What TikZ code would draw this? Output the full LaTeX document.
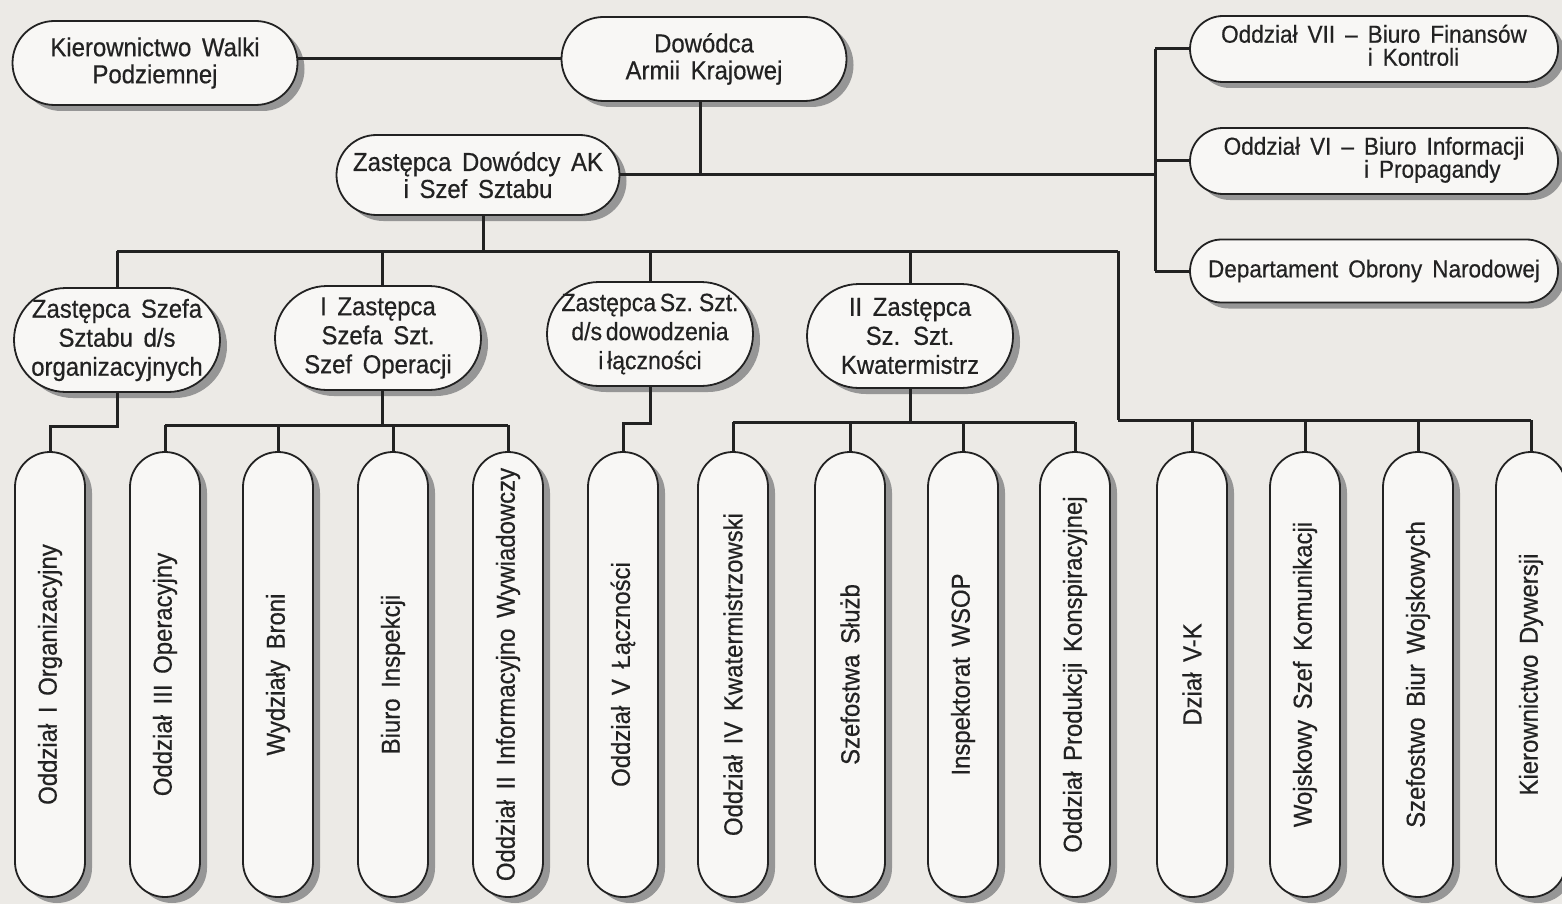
\documentclass[tikz,border=0pt]{standalone}
\usepackage{fontspec}
\setmainfont{Liberation Sans}[FakeStretch=0.92,WordSpace=1.6,FakeBold=0.5]
\usepackage{graphicx}
\usetikzlibrary{shadows,calc}
\definecolor{paper}{RGB}{236,234,230}
\definecolor{boxfill}{RGB}{248,247,245}
\definecolor{ink}{RGB}{34,34,34}
\definecolor{shade}{RGB}{150,150,150}
\newcommand{\tightsp}{\spaceskip 0.15em\relax}
\tikzset{
  pill/.style={draw=ink, line width=1.8pt, fill=boxfill, text=ink, inner sep=0pt, rectangle,
    general shadow={fill=shade, shadow xshift=7pt, shadow yshift=-6pt}},
  topbox/.style={pill, minimum width=285, minimum height=84, rounded corners=42, align=center,
    font=\fontsize{26}{27}\selectfont},
  sidebox/.style={pill, minimum width=368, minimum height=66, rounded corners=33,
    font=\fontsize{24.5}{26}\selectfont},
  midbox/.style={pill, minimum width=206, minimum height=104, rounded corners=52, align=center,
    font=\fontsize{26}{29}\selectfont},
  capsule/.style={pill, minimum width=70, minimum height=445, rounded corners=35,
    font=\fontsize{26}{28}\selectfont},
  conn/.style={draw=ink, line width=3pt},
}
\begin{document}
\begin{tikzpicture}[x=1pt,y=-1pt]
\useasboundingbox (0,0) rectangle (1562,904);
\fill[paper] (0,0) rectangle (1562,904);

% top level
\node[topbox] (kwp) at (155,63) {Kierownictwo Walki\\Podziemnej};
\node[topbox] (dow) at (704,59) {Dowódca\\Armii Krajowej};
\node[topbox, minimum width=283, minimum height=80, rounded corners=40] (ak) at (478,175) {Zastępca Dowódcy AK\\i Szef Sztabu};

% side boxes
\node[sidebox] (o7) at (1374,49) {\begin{tabular}{@{}l@{}l@{}}Oddział VII --~ & Biuro Finansów\\[-3pt] & i Kontroli\end{tabular}};
\node[sidebox] (o6) at (1374,161) {\begin{tabular}{@{}l@{}l@{}}Oddział VI --~ & Biuro Informacji\\[-3pt] & i Propagandy\end{tabular}};
\node[sidebox, minimum height=63, rounded corners=31.5] (don) at (1374,271) {Departament Obrony Narodowej};

% second level
\node[midbox] (zs1) at (117,340) {Zastępca Szefa\\Sztabu d/s\\organizacyjnych};
\node[midbox] (zs2) at (378,338) {I Zastępca\\Szefa Szt.\\Szef Operacji};
\node[midbox, font={\fontsize{25}{29}\selectfont\tightsp}] (zs3) at (650,334) {Zastępca Sz. Szt.\\d/s dowodzenia\\i łączności};
\node[midbox] (zs4) at (910,336) {II Zastępca\\Sz. Szt.\\Kwatermistrz};

% bottom capsules
\node[capsule] (b1) at (50,674.5) {\rotatebox{90}{Oddział I Organizacyjny}};
\node[capsule] (b2) at (165,674.5) {\rotatebox{90}{Oddział III Operacyjny}};
\node[capsule] (b3) at (278,674.5) {\rotatebox{90}{Wydziały Broni}};
\node[capsule] (b4) at (393,674.5) {\rotatebox{90}{Biuro Inspekcji}};
\node[capsule] (b5) at (508,674.5) {\rotatebox{90}{Oddział II Informacyjno Wywiadowczy}};
\node[capsule] (b6) at (623,674.5) {\rotatebox{90}{Oddział V Łączności}};
\node[capsule] (b7) at (733,674.5) {\rotatebox{90}{Oddział IV Kwatermistrzowski}};
\node[capsule] (b8) at (850,674.5) {\rotatebox{90}{Szefostwa Służb}};
\node[capsule] (b9) at (963,674.5) {\rotatebox{90}{Inspektorat WSOP}};
\node[capsule] (b10) at (1075,674.5) {\rotatebox{90}{Oddział Produkcji Konspiracyjnej}};
\node[capsule] (b11) at (1192,674.5) {\rotatebox{90}{Dział V-K}};
\node[capsule] (b12) at (1305,674.5) {\rotatebox{90}{Wojskowy Szef Komunikacji}};
\node[capsule] (b13) at (1418,674.5) {\rotatebox{90}{Szefostwo Biur Wojskowych}};
\node[capsule] (b14) at (1531,674.5) {\rotatebox{90}{Kierownictwo Dywersji}};

% junction coordinates
\coordinate (j1) at (700,175);
\coordinate (vr) at (1155,175);
\coordinate (h2L) at (117,251);
\coordinate (h2R) at (1118,251);
\coordinate (g1) at (0,426);
\coordinate (g2) at (0,425);
\coordinate (g3) at (0,423);
\coordinate (g4) at (0,422);
\coordinate (g5) at (0,420);

% top connectors
\draw[conn] (dow.west) -- (dow.west -| kwp.east);
\draw[conn] (dow.south -| j1) -- (j1);
\draw[conn] (ak.east |- j1) -- (vr);
\draw[conn] (vr |- o7.west) -- (vr |- don.west);
\draw[conn] (vr |- o7.west) -- (o7.west);
\draw[conn] (vr |- o6.west) -- (o6.west);
\draw[conn] (vr |- don.west) -- (don.west);

% second-level bus
\draw[conn] (ak.south -| 483,0) -- (483,251);
\draw[conn] (h2L) -- (h2R);
\draw[conn] (zs1.north) -- (zs1.north |- h2L);
\draw[conn] (zs2.north -| 382,0) -- (382,251);
\draw[conn] (zs3.north) -- (zs3.north |- h2L);
\draw[conn] (zs4.north) -- (zs4.north |- h2L);
\draw[conn] (h2R) -- (h2R |- g5);

% groups
\draw[conn] (zs1.south) -- (zs1.south |- g1) -| (b1.north);

\draw[conn] (zs2.south -| 382,0) -- (382,425);
\draw[conn] (b2.north |- g2) -- (b5.north |- g2);
\foreach \b in {b2,b3,b4,b5} \draw[conn] (\b.north) -- (\b.north |- g2);

\draw[conn] (zs3.south) -- (zs3.south |- g3) -| (b6.north);

\draw[conn] (zs4.south) -- (zs4.south |- g4);
\draw[conn] (b7.north |- g4) -- (b10.north |- g4);
\foreach \b in {b7,b8,b9,b10} \draw[conn] (\b.north) -- (\b.north |- g4);

\draw[conn] (h2R |- g5) -- (b14.north |- g5);
\foreach \b in {b11,b12,b13,b14} \draw[conn] (\b.north) -- (\b.north |- g5);
\end{tikzpicture}
\end{document}
